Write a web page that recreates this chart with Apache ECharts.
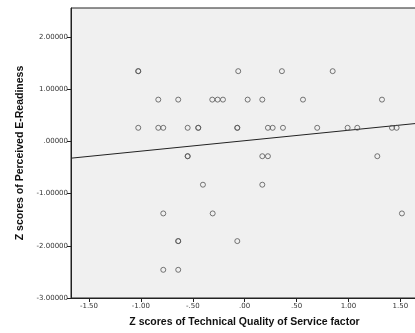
<!DOCTYPE html>
<html>
<head>
<meta charset="utf-8">
<script src="https://cdn.jsdelivr.net/npm/echarts@6/dist/echarts.min.js"></script>
<style>
  html, body { margin: 0; padding: 0; background: #fff; overflow: hidden; }
  #chart { width: 420px; height: 333px; }
</style>
</head>
<body>
<div id="chart"></div>
<script>
// Standardised scores: technical quality (x) against perceived e-readiness (y)
const techQuality = [
  -1.025, -1.025, -0.062, 0.359, 0.848,
  -0.832, -0.640, -0.312, -0.260, -0.209, 0.029, 0.170, 0.562, 1.323,
  -1.025, -0.832, -0.784, -0.549, -0.447, -0.447, -0.071, -0.071, 0.224, 0.270, 0.369, 0.699, 0.992, 1.085, 1.419, 1.464,
  -0.549, -0.549, 0.170, 0.224, 1.278,
  -0.402, 0.170,
  -0.784, -0.308, 1.515,
  -0.640, -0.640, -0.071,
  -0.784, -0.640
];
const eReadiness = [
  1.345, 1.345, 1.345, 1.345, 1.345,
  0.80, 0.80, 0.80, 0.80, 0.80, 0.80, 0.80, 0.80, 0.80,
  0.26, 0.26, 0.26, 0.26, 0.26, 0.26, 0.26, 0.26, 0.26, 0.26, 0.26, 0.26, 0.26, 0.26, 0.26, 0.26,
  -0.284, -0.284, -0.284, -0.284, -0.284,
  -0.83, -0.83,
  -1.38, -1.38, -1.38,
  -1.91, -1.91, -1.91,
  -2.46, -2.46
];
// Least-squares fit line
const fitSlope = 0.20;
const fitIntercept = 0.013;

const xTicks = [-1.5, -1.0, -0.5, 0.0, 0.5, 1.0, 1.5];
const yTicks = [-3, -2, -1, 0, 1, 2];
const xMin = -1.673, xMax = 1.67;
const yMin = -3, yMax = 2.555;

function spssNum(v, digits) {
  let s = Math.abs(v).toFixed(digits);
  if (s.startsWith('0')) s = s.slice(1);
  return (v < 0 ? '-' : '') + s;
}

const points = techQuality.map((x, i) => [x, eReadiness[i]]);
const fitLine = [xMin, xMax].map(x => [x, fitIntercept + fitSlope * x]);

const tickFont = { fontFamily: 'DejaVu Sans', fontSize: 7, color: '#333' };
const titleFont = { fontFamily: 'Liberation Sans', fontWeight: 'bold', fontSize: 10.5, color: '#111' };

const chart = echarts.init(document.getElementById('chart'), null, { renderer: 'canvas' });
chart.setOption({
  animation: false,
  backgroundColor: '#fff',
  grid: {
    left: 71, right: 2, top: 8, bottom: 32,
    show: true, backgroundColor: '#f0f0f0', borderColor: '#222', borderWidth: 1
  },
  xAxis: {
    type: 'value', min: xMin, max: xMax,
    name: 'Z scores of Technical Quality of Service factor',
    nameLocation: 'middle', nameGap: 19,
    nameTextStyle: titleFont,
    axisLine: { show: true, onZero: false, lineStyle: { color: '#222', width: 1 } },
    axisTick: { show: true, length: 4, customValues: xTicks, lineStyle: { color: '#222' } },
    axisLabel: Object.assign({ customValues: xTicks, margin: 5, formatter: v => spssNum(v, 2) }, tickFont),
    splitLine: { show: false }
  },
  yAxis: {
    type: 'value', min: yMin, max: yMax,
    name: 'Z scores of Perceived E-Readiness',
    nameLocation: 'middle', nameGap: 44, nameRotate: 90,
    nameTextStyle: titleFont,
    axisLine: { show: true, onZero: false, lineStyle: { color: '#222', width: 1 } },
    axisTick: { show: true, length: 4, customValues: yTicks, lineStyle: { color: '#222' } },
    axisLabel: Object.assign({ customValues: yTicks, margin: 3, formatter: v => spssNum(v, 5) }, tickFont),
    splitLine: { show: false }
  },
  series: [
    {
      type: 'scatter',
      data: points,
      symbol: 'circle',
      symbolSize: 5,
      itemStyle: { color: 'rgba(0,0,0,0)', borderColor: '#555', borderWidth: 1 },
      z: 3
    },
    {
      type: 'line',
      data: fitLine,
      symbol: 'none',
      lineStyle: { color: '#222', width: 1 },
      z: 2
    }
  ]
});
</script>
</body>
</html>
